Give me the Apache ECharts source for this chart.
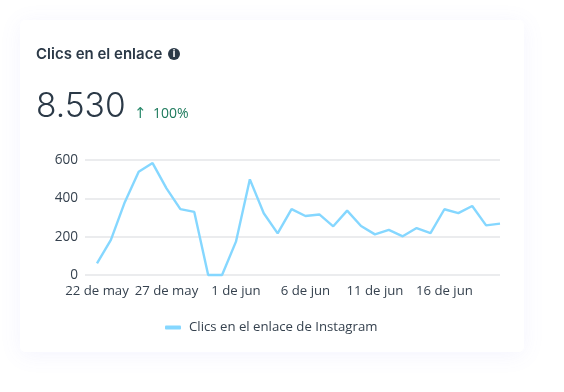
<!DOCTYPE html>
<html><head><meta charset="utf-8">
<style>html,body{margin:0;padding:0;background:#fff}#c{width:564px;height:392px}</style>
<script src="https://cdn.jsdelivr.net/npm/echarts@6/dist/echarts.min.js"></script>
</head><body><div id="c"></div>
<script>
const categories=['22 de may','23 de may','24 de may','25 de may','26 de may','27 de may','28 de may','29 de may','30 de may','31 de may','1 de jun','2 de jun','3 de jun','4 de jun','5 de jun','6 de jun','7 de jun','8 de jun','9 de jun','10 de jun','11 de jun','12 de jun','13 de jun','14 de jun','15 de jun','16 de jun','17 de jun','18 de jun','19 de jun','20 de jun'];
const clicks=[61,183,380,539,584,452,344,329,0,0,174,499,322,217,344,308,316,254,336,256,212,235,202,245,219,343,323,360,259,268];
const seriesName='Clics en el enlace de Instagram';
const yTicks=[0,200,400,600];
const titleText='Clics en el enlace';
const totalText='8.530';
const changeText='100%';
const ui='"Open Sans","Noto Sans",sans-serif';
const chart=echarts.init(document.getElementById('c'),null,{renderer:'canvas'});
chart.setOption({
 animation:false,backgroundColor:'#fff',
 grid:[
  {left:85,right:64,top:160,height:115},
  {left:97,right:64,top:160,height:115}
 ],
 xAxis:[
  {gridIndex:0,type:'category',data:categories,show:false},
  {gridIndex:1,type:'category',data:categories,boundaryGap:false,
   axisLine:{show:false},axisTick:{show:false},
   axisLabel:{interval:(i)=>i%5===0,color:'#36424f',fontSize:13.2,fontFamily:ui,margin:10,hideOverlap:false}}
 ],
 yAxis:[
  {gridIndex:0,type:'value',min:0,max:600,interval:yTicks[1]-yTicks[0],
   axisLine:{show:false},axisTick:{show:false},
   axisLabel:{color:'#36424f',fontSize:13.6,fontFamily:ui,margin:7,padding:[4,0,0,0]},
   splitLine:{lineStyle:{color:'#e4e6e8',width:1.5}}},
  {gridIndex:1,type:'value',min:0,max:600,interval:yTicks[1]-yTicks[0],show:false,splitLine:{show:false}}
 ],
 legend:{show:true,left:160,top:316,itemWidth:16,itemHeight:4,itemGap:8,icon:'roundRect',
  textStyle:{color:'#36424f',fontSize:13.2,fontFamily:ui,padding:[0,0,0,3]},data:[seriesName]},
 series:[{name:seriesName,type:'line',xAxisIndex:1,yAxisIndex:1,data:clicks,symbol:'none',showSymbol:false,smooth:false,clip:false,
  lineStyle:{color:'#85d7ff',width:2.4},itemStyle:{color:'#85d7ff'}}],
 graphic:[
  {type:'rect',z:-10,silent:true,shape:{x:20,y:20,width:504,height:332,r:5},
   style:{fill:'#fff',shadowBlur:22,shadowColor:'rgba(110,110,240,0.08)',shadowOffsetX:0,shadowOffsetY:3}},
  {type:'text',left:36,top:47,style:{text:titleText,fill:'#2b3947',font:'600 15px "Inter","Open Sans",sans-serif'}},
  {type:'circle',shape:{cx:174,cy:54,r:6},style:{fill:'#2b3947'}},
  {type:'text',x:174,y:54,style:{text:'i',fill:'#fff',font:'700 10px "Open Sans",sans-serif',align:'center',verticalAlign:'middle'}},
  {type:'text',left:36,top:90,style:{text:totalText,fill:'#2b3947',font:'300 33.5px "Inter","Lato",sans-serif'}},
  {type:'text',left:134,top:107,style:{text:'↑',fill:'#2a8a6c',font:'400 15px "DejaVu Sans",sans-serif'}},
  {type:'text',left:153,top:107,style:{text:changeText,fill:'#1d7a5c',font:'400 14px '+ui}}
 ]
});
</script></body></html>
